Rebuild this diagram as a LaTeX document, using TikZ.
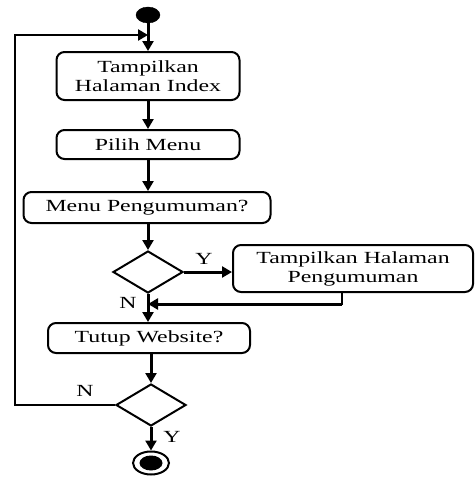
\documentclass[tikz,border=0pt]{standalone}
\usepackage{fontspec}
\setmainfont{Liberation Serif}[FakeStretch=1.4]
\usetikzlibrary{arrows.meta,shapes.geometric}
\begin{document}
\begin{tikzpicture}[x=1pt,y=-1pt,
  every node/.style={font=\fontsize{17}{19}\selectfont},
  actbox/.style={draw,line width=2pt,rounded corners=8pt,inner sep=0pt,align=center},
  decis/.style={draw,diamond,line width=2pt,inner sep=0pt,minimum width=70pt,minimum height=42pt,aspect=1.6},
  flow/.style={line width=3pt,-{Triangle[length=10pt,width=11pt]}},
  plain/.style={line width=2.4pt},
  lbl/.style={inner sep=0pt}]
\useasboundingbox (0,0) rectangle (475,480);
% start
\node[draw,fill=black,ellipse,minimum width=24pt,minimum height=16pt,inner sep=0pt] (start) at (148,15) {};
\coordinate (join) at (148,35);
\node[actbox,minimum width=183pt,minimum height=48pt] (b1) at (148,76) {Tampilkan\\Halaman Index};
\node[actbox,minimum width=183pt,minimum height=29pt] (b2) at (148,144.5) {Pilih Menu};
\node[actbox,minimum width=247pt,minimum height=31pt] (b3) at (147,207.5) {Menu Pengumuman?};
\node[decis] (d1) at (148,272) {};
\node[actbox,minimum width=240pt,minimum height=47pt] (b4) at (353,268.5) {Tampilkan Halaman\\Pengumuman};
\coordinate (merge) at (148,304);
\node[actbox,minimum width=202pt,minimum height=30pt] (b5) at (149,338) {Tutup Website?};
\node[decis] (d2) at (151,405) {};
\node[draw,ellipse,line width=2pt,minimum width=36pt,minimum height=23pt,inner sep=0pt] (end) at (151,463) {};
\node[fill=black,ellipse,minimum width=23pt,minimum height=15pt,inner sep=0pt] (endin) at (151,463) {};
\coordinate (lb) at (15,405);
\coordinate (lt) at (15,35);
% connectors
\draw[flow] (start.south) -- (b1.north);
\draw[flow] (b1.south) -- (b2.north);
\draw[flow] (b2.south) -- (b3.north -| b2.south);
\draw[flow] (b3.south -| d1.north) -- (d1.north);
\draw[flow] (d1.east) -- (d1.east -| b4.west);
\draw[plain] ([xshift=-11pt]b4.south) |- (merge);
\draw[flow] ([xshift=-11pt]b4.south |- merge) -- (merge);
\draw[flow] (d1.south) -- (b5.north -| d1.south);
\draw[flow] (b5.south -| d2.north) -- (d2.north);
\draw[flow] (d2.south) -- (end.north);
\draw[plain] (d2.west) -- (lb) -- (lt) -- ([xshift=-2pt]join);
\draw[flow,line width=2.4pt] (lt) -- (join);
% labels
\node[lbl] (ly1) at (204,259) {Y};
\node[lbl] (ln1) at (128,303) {N};
\node[lbl] (ln2) at (85,391) {N};
\node[lbl] (ly2) at (172,437) {Y};
\end{tikzpicture}
\end{document}
